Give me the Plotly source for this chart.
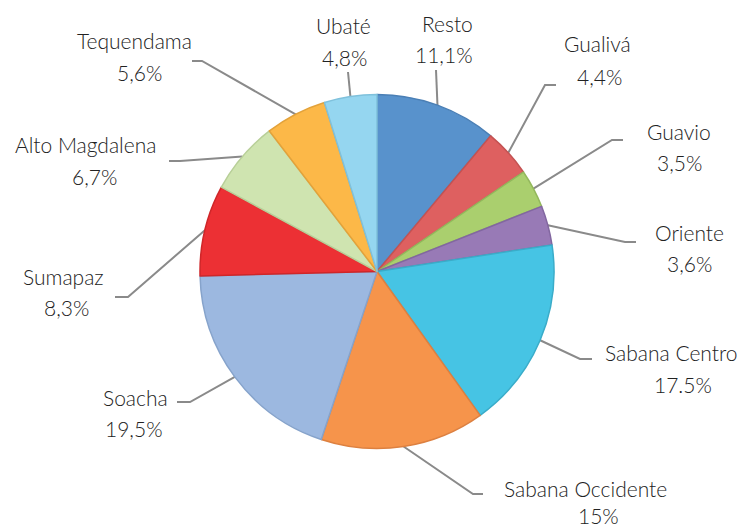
import math
import plotly.graph_objects as go

# ---- data ----
regions = ["Resto", "Gualivá", "Guavio", "Oriente", "Sabana Centro",
           "Sabana Occidente", "Soacha", "Sumapaz", "Alto Magdalena",
           "Tequendama", "Ubaté"]
shares = [11.1, 4.4, 3.5, 3.6, 17.5, 15.0, 19.5, 8.3, 6.7, 5.6, 4.8]
pct_labels = ["11,1%", "4,4%", "3,5%", "3,6%", "17.5%", "15%", "19,5%",
              "8,3%", "6,7%", "5,6%", "4,8%"]

# ---- style ----
colors = ["#5892cc", "#de6060", "#aacf6e", "#987ab6", "#46c4e4", "#f6944b",
          "#9cb8e0", "#ec3034", "#cfe4b0", "#fcb848", "#95d6f0"]
edge_colors = ["#4a7fb5", "#c45252", "#93b85c", "#8267a0", "#3aacc9", "#dd8040",
               "#86a3cb", "#cf2629", "#b8cf98", "#e3a23a", "#7fc1dc"]

# page is rendered with an 8px body margin; work in screen pixels
OFF = 8
SW, SH = 746, 529
W, H = SW - OFF, SH - OFF
CX, CY, R = 377, 271.5, 177

# label layout (screen-pixel centres of the name / percent lines)
name_pos = [(447, 23), (597, 43), (679, 131), (689, 232), (671, 352),
            (585, 488), (135, 397), (63, 276), (85, 144), (134, 40), (343, 25)]
pct_pos = [(444, 54), (599, 76), (679, 162), (689, 263), (683, 384),
           (598, 515), (134, 428), (66, 307), (94, 176), (139, 72), (344, 57)]
leader_elbow = [(436, 70), (545, 85), (612, 140), (625, 242), (580, 359),
                (473, 494), (190, 402), (128, 297), (180, 161), (202, 61), (348, 72)]
leader_end = [(436, 70), (556, 85), (623, 140), (636, 242), (592, 359),
              (483, 494), (177, 402), (115, 297), (169, 161), (192, 61), (348, 72)]

fig = go.Figure()

fig.add_trace(go.Pie(
    labels=regions, values=shares, sort=False, direction="clockwise",
    rotation=0, textinfo="none", hoverinfo="label+percent",
    marker=dict(colors=colors, line=dict(color=edge_colors, width=1.5)),
    domain=dict(x=[(CX - R - OFF) / W, (CX + R - OFF) / W],
                y=[(SH - (CY + R)) / H, (SH - (CY - R)) / H]),
    showlegend=False,
))

# leader lines, starting on the pie edge at each slice's mid-angle
total = sum(shares)
cum = 0.0
for i, v in enumerate(shares):
    mid = (cum + v / 2) / total * 2 * math.pi
    cum += v
    ex = CX + R * math.sin(mid)
    ey = CY - R * math.cos(mid)
    xs = [ex, leader_elbow[i][0], leader_end[i][0]]
    ys = [ey, leader_elbow[i][1], leader_end[i][1]]
    fig.add_trace(go.Scatter(x=xs, y=ys, mode="lines",
                             line=dict(color="#8a8a8a", width=2),
                             hoverinfo="skip", showlegend=False,
                             xaxis="x", yaxis="y"))

font = dict(family="Lato, 'Noto Sans', sans-serif", size=21, color="#222222",
            weight=300)
for i, name in enumerate(regions):
    fig.add_annotation(x=name_pos[i][0], y=name_pos[i][1], text=name,
                       showarrow=False, font=font, xref="x", yref="y",
                       xanchor="center", yanchor="middle")
    fig.add_annotation(x=pct_pos[i][0], y=pct_pos[i][1], text=pct_labels[i],
                       showarrow=False, font=font, xref="x", yref="y",
                       xanchor="center", yanchor="middle")

fig.update_layout(
    width=W, height=H, margin=dict(l=0, r=0, t=0, b=0),
    paper_bgcolor="white", plot_bgcolor="rgba(0,0,0,0)",
    xaxis=dict(range=[OFF, SW], visible=False, fixedrange=True),
    yaxis=dict(range=[SH, OFF], visible=False, fixedrange=True),
)

fig.write_html("out.html")
